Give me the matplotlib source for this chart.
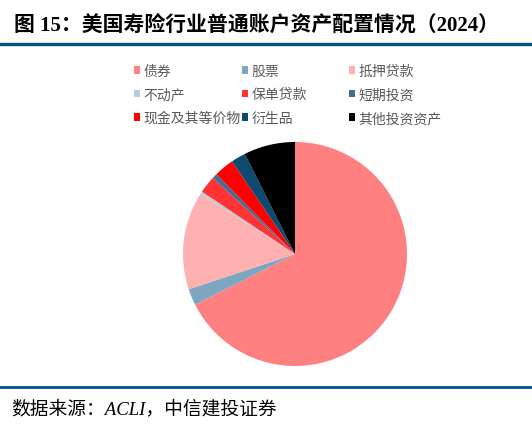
import matplotlib
matplotlib.use('Agg')
import matplotlib.pyplot as plt
from matplotlib.patches import Patch
from matplotlib.lines import Line2D

plt.rcParams['font.family'] = ['Noto Sans CJK SC', 'DejaVu Sans']

# asset classes, share of general account (%)
labels = ['债券', '股票', '抵押贷款', '不动产', '保单贷款', '短期投资',
          '现金及其等价物', '衍生品', '其他投资资产']
shares = [67.5, 2.4, 14.1, 0.4, 2.5, 0.7, 2.9, 2.1, 7.4]
colors = ['#FF8080', '#7FA6C0', '#FFB0B0', '#B8CCDA', '#FF3333',
          '#3F6F95', '#FF0000', '#0E4A70', '#000000']

W, H = 532, 427
fig = plt.figure(figsize=(W / 100, H / 100), dpi=100)

# title
fig.text(0.026, 0.939, '图 15：美国寿险行业普通账户资产配置情况（2024）',
         fontsize=15, fontweight='bold', ha='left', va='center',
         family=['Liberation Serif', 'Noto Sans CJK SC'])
fig.add_artist(Line2D([0, 1], [0.894, 0.894], color='#0B5283', lw=2.4))
fig.add_artist(Line2D([0, 1], [0.091, 0.091], color='#0B5283', lw=2.0))

# source
fig.text(0.022, 0.042, '数据来源：ACLI，中信建投证券', fontsize=13.5,
         style='italic', ha='left', va='center',
         family=['Liberation Serif', 'Noto Sans CJK SC'])

# pie
cx, cy, r = 295, 255, 112
ax = fig.add_axes([(cx - r) / W, 1 - (cy + r) / H, 2 * r / W, 2 * r / H])
ax.pie(shares, colors=colors, startangle=90, counterclock=False,
       wedgeprops=dict(linewidth=0))
ax.set_xlim(-1, 1)
ax.set_ylim(-1, 1)
ax.set_aspect('equal')

# legend: three fixed-width columns, filled row by row
col_x = [134, 242, 349]
top_y = 65
for j in range(3):
    idx = [j, j + 3, j + 6]
    handles = [Patch(facecolor=colors[i], edgecolor='none') for i in idx]
    fig.legend(handles, [labels[i] for i in idx], loc='upper left',
               bbox_to_anchor=(col_x[j] / W, 1 - top_y / H),
               frameon=False, fontsize=10, borderpad=0, borderaxespad=0,
               handlelength=0.45, handleheight=0.45, handletextpad=0.25,
               labelspacing=0.68, labelcolor='#595959')

fig.savefig('out.png', dpi=100)
